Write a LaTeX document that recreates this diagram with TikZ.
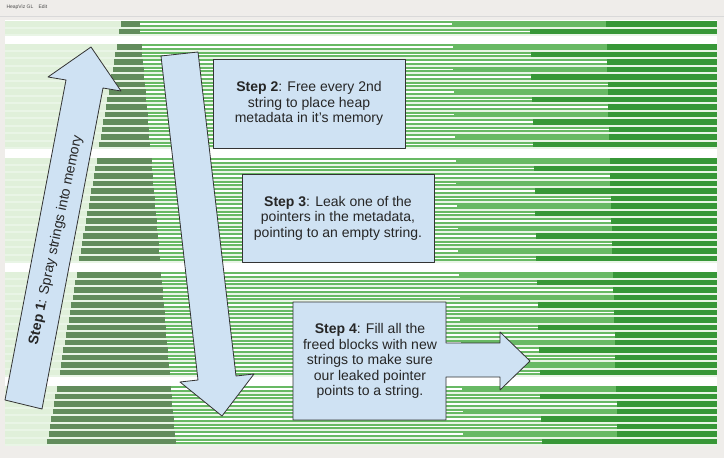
\documentclass[tikz,border=0pt]{standalone}
\usepackage{fontspec}
\setmainfont{Liberation Sans}
\definecolor{winbg}{HTML}{EFEDEA}
\definecolor{rowbg}{HTML}{E9F5E6}
\definecolor{faintgreen}{HTML}{E0F0DA}
\definecolor{stringgray}{HTML}{628C5C}
\definecolor{midgreen}{HTML}{68B964}
\definecolor{darkgreen}{HTML}{379737}
\definecolor{notefill}{HTML}{CFE2F3}
\definecolor{noteline}{HTML}{333333}
\tikzset{
  note/.style={draw=noteline, fill=notefill, line width=0.8pt, line join=round},
  notetext/.style={font=\fontsize{14}{15.5}\selectfont, align=center, text=black!85},
  menutext/.style={font=\fontsize{5}{6}\selectfont, text=black!70, anchor=west},
}

\begin{document}
\begin{tikzpicture}[x=1pt, y=-1pt]
  \useasboundingbox (0,0) rectangle (724,458);
  \fill[winbg] (0,0) rectangle (724,458);
  \draw[black!15] (0,16.5) -- (724,16.5);
  \node[menutext] (menuapp) at (3,7) {HeapViz GL};
  \node[menutext] (menuedit) at (35,7) {Edit};
  \fill[white] (5,20) rectangle (717,446);
  % heap rows, one block of strings after the other
  \foreach \ytop/\n in {21/2, 44/14, 158/14, 272/14, 386/8} {
    \fill[rowbg] (5,\ytop) rectangle (717,\ytop+\n*7.5);
    \foreach \idx in {1,...,\n} {
      \pgfmathsetmacro{\rowy}{\ytop+(\idx-1)*7.5}
      \pgfmathsetmacro{\xleft}{120-0.175*(\rowy-24)}
      \pgfmathsetmacro{\xright}{140+0.086*(\rowy-24)}
      \pgfmathsetmacro{\drift}{0.028*(\rowy-24)}
      \pgfmathtruncatemacro{\kind}{mod(\idx-1,3)}
      \pgfmathsetmacro{\wend}{{452,530,606}[\kind]+\drift}
      \pgfmathsetmacro{\dstart}{{606,530,606}[\kind]+\drift}
      \fill[faintgreen] (5,\rowy) rectangle (\xleft,\rowy+5.5);
      \fill[stringgray] (\xleft,\rowy) rectangle (\xright,\rowy+5.5);
      \fill[midgreen] (\xright,\rowy) rectangle (717,\rowy+5.5);
      \fill[white] (\xright,\rowy+2) rectangle (\wend,\rowy+3.6);
      \fill[darkgreen] (\dstart,\rowy) rectangle (717,\rowy+5.5);
    }
  }
  \draw[note] (5,400) -- (66,80) -- (48,77) -- (91,47) -- (121,91) -- (103,88) -- (42,409) -- cycle;
  \node[notetext, rotate=78] (step1) at (56,240) {\textbf{Step 1}: Spray strings into memory};
  \draw[note] (161,56) -- (198,52) -- (236,376) -- (254,374) -- (222,416) -- (180,382) -- (198,380) -- cycle;
  \node[note, notetext, minimum width=192pt, minimum height=89pt, inner sep=0pt] (step2) at (309,103.5)
    {\textbf{Step 2}: Free every 2nd\\string to place heap\\metadata in it’s memory};
  \node[note, notetext, minimum width=192pt, minimum height=88pt, inner sep=0pt] (step3) at (338,218)
    {\textbf{Step 3}: Leak one of the\\pointers in the metadata,\\pointing to an empty string.};
  \draw[note] (293,302) -- (446,302) -- (446,343) -- (500,343) -- (500,332) -- (530,361) -- (500,390)
    -- (500,377) -- (446,377) -- (446,420) -- (293,420) -- cycle;
  \node[notetext] (step4) at (370,361)
    {\textbf{Step 4}: Fill all the\\freed blocks with new\\strings to make sure\\our leaked pointer\\points to a string.};
\end{tikzpicture}
\end{document}
